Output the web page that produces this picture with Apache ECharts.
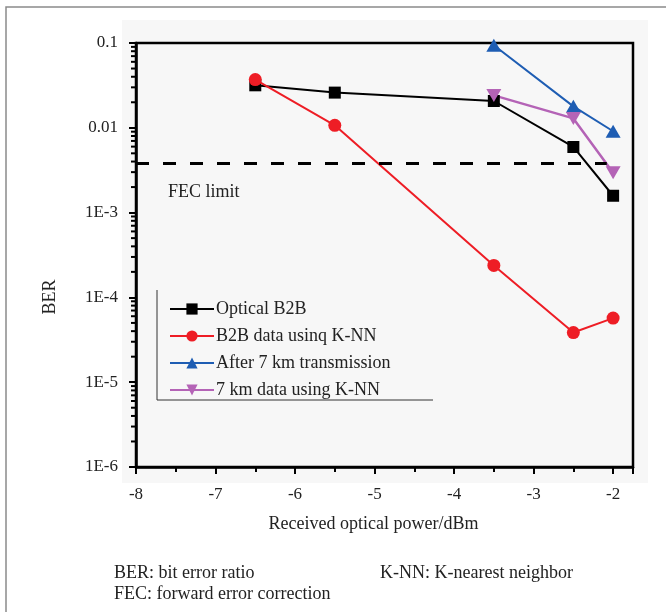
<!DOCTYPE html>
<html>
<head>
<meta charset="utf-8">
<script src="https://cdn.jsdelivr.net/npm/echarts@6/dist/echarts.min.js"></script>
<style>html,body{margin:0;padding:0;background:#fff}#c{width:666px;height:612px}</style>
</head>
<body>
<div id="c"></div>
<script>
// ---- data ----
const opticalB2B_x = [-6.5, -5.5, -3.5, -2.5, -2];
const opticalB2B_y = [0.0317, 0.026, 0.0207, 0.00594, 0.00158];
const b2bKNN_x = [-6.5, -5.5, -3.5, -2.5, -2];
const b2bKNN_y = [0.037, 0.0107, 0.000238, 0.0000385, 0.000057];
const after7km_x = [-3.5, -2.5, -2];
const after7km_y = [0.094, 0.0179, 0.0091];
const km7KNN_x = [-3.5, -2.5, -2];
const km7KNN_y = [0.0241, 0.0129, 0.00295];
const fecLimit = 0.0038;
const fecEndX = -2.08;
const seriesNames = ['Optical B2B', 'B2B data usinq K-NN', 'After 7 km transmission', '7 km data using K-NN'];
const yTickValues = [1e-6, 1e-5, 1e-4, 1e-3, 1e-2, 1e-1];
const yTickLabels = ['1E-6', '1E-5', '1E-4', '1E-3', '0.01', '0.1'];
const minorMultipliers = [2, 3, 4, 5, 6, 7, 8, 9];
const decades = [1e-6, 1e-5, 1e-4, 1e-3, 1e-2];
const xMin = -8, xMax = -1.75;

const pairs = (xs, ys) => xs.map((x, i) => [x, ys[i]]);
const minorY = [];
decades.forEach(d => minorMultipliers.forEach(m => minorY.push([xMin, m * d])));

const FONT = 'Liberation Serif';
const F18 = '18px "Liberation Serif"';
const chart = echarts.init(document.getElementById('c'), null, {renderer: 'canvas'});
chart.setOption({
  animation: false,
  backgroundColor: '#fff',
  textStyle: {fontFamily: FONT},
  graphic: [
    {type: 'rect', z: -10, shape: {x: 6, y: 7, width: 700, height: 700}, style: {fill: '#fff', stroke: '#8a8a8a', lineWidth: 1.5}},
    {type: 'rect', z: -9, shape: {x: 122, y: 20, width: 526, height: 463}, style: {fill: '#f7f7f7'}},
    {type: 'polyline', z: 10, shape: {points: [[157, 290], [157, 400], [433, 400]]}, style: {stroke: '#333', lineWidth: 1, fill: null}},
    {type: 'text', z: 10, x: 50, y: 297, rotation: Math.PI / 2, style: {text: 'BER', font: F18, fill: '#222', align: 'center', verticalAlign: 'middle'}},
    {type: 'text', z: 10, x: 168, y: 192, style: {text: 'FEC limit', font: F18, fill: '#222', verticalAlign: 'middle'}},
    {type: 'text', z: 10, x: 114, y: 573, style: {text: 'BER: bit error ratio', font: F18, fill: '#222', verticalAlign: 'middle'}},
    {type: 'text', z: 10, x: 380, y: 573, style: {text: 'K-NN: K-nearest neighbor', font: F18, fill: '#222', verticalAlign: 'middle'}},
    {type: 'text', z: 10, x: 114, y: 594, style: {text: 'FEC: forward error correction', font: F18, fill: '#222', verticalAlign: 'middle'}}
  ],
  grid: {left: 136, right: 33, top: 43, bottom: 145, show: true, borderColor: '#000', borderWidth: 2.5, backgroundColor: 'transparent'},
  legend: {
    data: seriesNames,
    orient: 'vertical', left: 164, top: 295,
    itemWidth: 44, itemHeight: 14, itemGap: 9,
    textStyle: {fontFamily: FONT, fontSize: 18, color: '#222', padding: [0, 0, 0, -3]},
    backgroundColor: 'transparent'
  },
  xAxis: {
    type: 'value', min: xMin, max: xMax, interval: 1,
    name: 'Received optical power/dBm', nameLocation: 'middle', nameGap: 48,
    nameTextStyle: {fontFamily: FONT, fontSize: 18, color: '#222', padding: [0, 22, 0, 0]},
    axisLine: {lineStyle: {color: '#000', width: 2.5}},
    axisTick: {length: 7, lineStyle: {color: '#000', width: 2}},
    minorTick: {show: true, splitNumber: 2, length: 5, lineStyle: {color: '#000', width: 2}},
    splitLine: {show: false},
    axisLabel: {fontFamily: FONT, fontSize: 17, color: '#222', margin: 19, showMaxLabel: false}
  },
  yAxis: {
    type: 'log', logBase: 10, min: 1e-6, max: 0.1,
    axisLine: {lineStyle: {color: '#000', width: 2.5}},
    axisTick: {length: 7, lineStyle: {color: '#000', width: 2}},
    splitLine: {show: false},
    axisLabel: {
      fontFamily: FONT, fontSize: 17, color: '#222', margin: 18,
      formatter: v => {
        const i = yTickValues.findIndex(t => Math.abs(Math.log10(t) - Math.log10(v)) < 1e-6);
        return i >= 0 ? yTickLabels[i] : '';
      }
    }
  },
  series: [
    {
      type: 'custom', silent: true, clip: false, z: 5,
      data: minorY,
      renderItem: (params, api) => {
        const p = api.coord([api.value(0), api.value(1)]);
        return {type: 'line', shape: {x1: p[0] - 5, y1: p[1], x2: p[0], y2: p[1]}, style: {stroke: '#000', lineWidth: 2}};
      }
    },
    {
      name: seriesNames[0], type: 'line', data: pairs(opticalB2B_x, opticalB2B_y),
      symbol: 'rect', symbolSize: 12, z: 3,
      lineStyle: {color: '#000', width: 2}, itemStyle: {color: '#000'},
      markLine: {
        silent: true, symbol: 'none', label: {show: false},
        lineStyle: {color: '#000', width: 3, type: [13, 14]},
        data: [[{coord: [xMin, fecLimit]}, {coord: [fecEndX, fecLimit]}]]
      }
    },
    {
      name: seriesNames[1], type: 'line', data: pairs(b2bKNN_x, b2bKNN_y),
      symbol: 'circle', symbolSize: 13, z: 4,
      lineStyle: {color: '#ee1d25', width: 2}, itemStyle: {color: '#ee1d25'}
    },
    {
      name: seriesNames[2], type: 'line', data: pairs(after7km_x, after7km_y),
      symbol: 'triangle', symbolSize: [15, 13], z: 3,
      lineStyle: {color: '#1e5db3', width: 2}, itemStyle: {color: '#1e5db3'}
    },
    {
      name: seriesNames[3], type: 'line', data: pairs(km7KNN_x, km7KNN_y),
      symbol: 'triangle', symbolRotate: 180, symbolSize: [15, 13], z: 3,
      lineStyle: {color: '#b463b6', width: 2.5}, itemStyle: {color: '#b463b6'}
    }
  ]
});
</script>
</body>
</html>
